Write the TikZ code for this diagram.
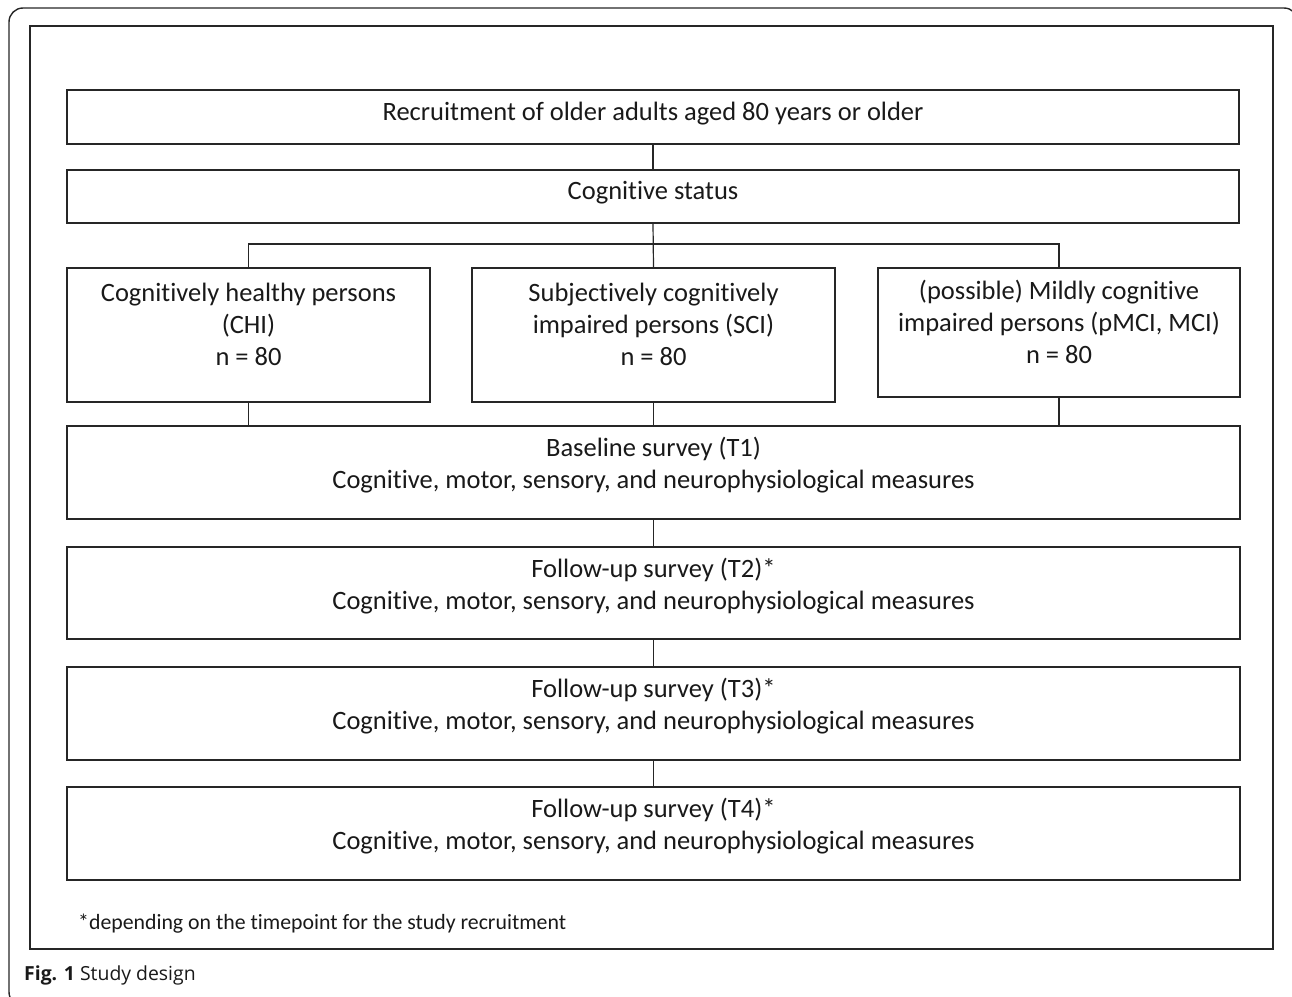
\documentclass[tikz,border=0pt]{standalone}
\usepackage{fontspec}
\setmainfont{Carlito}[Ligatures=NoCommon]
\newfontfamily\capfont{Open Sans}
\begin{document}
\begin{tikzpicture}[x=1pt,y=-1pt,
  box/.style={draw=black!85,line width=1.3pt,inner sep=0pt},
  txt/.style={align=center,text=black!90,font=\fontsize{26.5}{32}\selectfont,inner sep=0pt},
  conn/.style={draw=black!85,line width=1.2pt}]
\useasboundingbox (0,0) rectangle (1292,996);
\begin{scope}
\clip (0,0) rectangle (1292,996);
\draw[black!85,line width=1.4pt,rounded corners=14pt] (9,8) rectangle (1298,1006);
\end{scope}
\node[box,minimum width=1243pt,minimum height=923pt] (frame) at (651.5,487.5) {};
% boxes
\node[box,minimum width=1172pt,minimum height=54pt] (rec) at (653,117) {};
\node[txt] (recT) at (653,114) {Recruitment of older adults aged 80 years or older};
\node[box,minimum width=1172pt,minimum height=53pt] (cs) at (653,196.5) {};
\node[txt] (csT) at (653,193) {Cognitive status};
\node[box,minimum width=363pt,minimum height=134pt] (chi) at (248.5,335) {};
\node[txt] (chiT) at (248.5,324) {Cognitively healthy persons\\(CHI)\\n = 80};
\node[box,minimum width=363pt,minimum height=134pt] (sci) at (653.5,335) {};
\node[txt] (sciT) at (653.5,324) {Subjectively cognitively\\impaired persons (SCI)\\n = 80};
\node[box,minimum width=362pt,minimum height=129pt] (mci) at (1059,332.5) {};
\node[txt] (mciT) at (1059,322) {(possible) Mildly cognitive\\impaired persons (pMCI, MCI)\\n = 80};
\node[box,minimum width=1173pt,minimum height=93pt] (t1) at (653.5,472.5) {};
\node[txt] (t1T) at (653.5,465) {Baseline survey (T1)\\Cognitive, motor, sensory, and neurophysiological measures};
\node[box,minimum width=1173pt,minimum height=92pt] (t2) at (653.5,593) {};
\node[txt] (t2T) at (653.5,586) {Follow-up survey (T2)*\\Cognitive, motor, sensory, and neurophysiological measures};
\node[box,minimum width=1173pt,minimum height=93pt] (t3) at (653.5,713.5) {};
\node[txt] (t3T) at (653.5,706) {Follow-up survey (T3)*\\Cognitive, motor, sensory, and neurophysiological measures};
\node[box,minimum width=1173pt,minimum height=93pt] (t4) at (653.5,833.5) {};
\node[txt] (t4T) at (653.5,826) {Follow-up survey (T4)*\\Cognitive, motor, sensory, and neurophysiological measures};
% connectors
\draw[conn] (rec.south) -- (cs.north);
\draw[conn] (cs.south) -- (sci.north);
\coordinate (br) at (653.5,244);
\draw[conn] (chi.north) |- (br) -| (mci.north);
\draw[conn] (chi.south) -- (chi.south |- t1.north);
\draw[conn] (sci.south) -- (t1.north);
\draw[conn] (mci.south) -- (mci.south |- t1.north);
\draw[conn] (t1.south) -- (t2.north);
\draw[conn] (t2.south) -- (t3.north);
\draw[conn] (t3.south) -- (t4.north);
% footnote and caption
\node[anchor=west,inner sep=0pt,text=black!90,font=\fontsize{21.8}{24}\selectfont] (fn) at (78,924) {*depending on the timepoint for the study recruitment};
\node[anchor=west,inner sep=0pt,text=black!90,font=\capfont\fontsize{19.4}{24}\selectfont] (cap) at (24,975) {\textbf{Fig. 1} Study design};
\end{tikzpicture}
\end{document}
